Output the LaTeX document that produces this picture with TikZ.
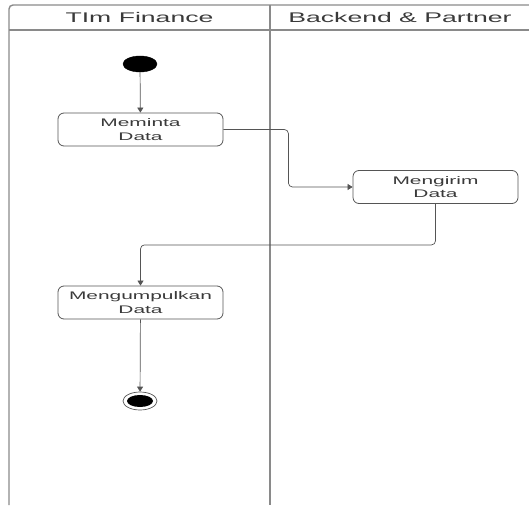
\documentclass[tikz,border=0pt]{standalone}
\usepackage{fontspec}
\setmainfont{Liberation Sans}
\newfontfamily\wide[FakeStretch=1.9]{Liberation Sans}
\usetikzlibrary{arrows.meta,shapes.geometric}
\definecolor{lineg}{HTML}{555555}
\definecolor{frameg}{HTML}{8A8A8A}
\definecolor{txtg}{HTML}{3A3A3A}
\tikzset{
  act/.style={draw=lineg, line width=0.8pt, rounded corners=6pt, minimum width=165pt, minimum height=33pt, inner sep=0pt, align=center, text=txtg, font=\wide\fontsize{11}{13.5}\selectfont},
  conn/.style={draw=lineg, line width=0.7pt, rounded corners=4pt, -{Triangle[length=5pt,width=6pt]}},
  frame/.style={draw=frameg, line width=1.4pt},
  hdr/.style={text=txtg, font=\wide\fontsize{14}{16}\selectfont, inner sep=0pt}
}
\begin{document}
\begin{tikzpicture}[x=1pt,y=-1pt]
\useasboundingbox (0,0) rectangle (529,505);
% frame
\draw[frame, rounded corners=4pt] (9,505) -- (9,5) -- (535,5);
\draw[frame] (9,30) -- (535,30);
\draw[frame] (270,5) -- (270,505);
\node[hdr] (h1) at (139.5,17.5) {TIm Finance};
\node[hdr] (h2) at (400,17.5) {Backend \& Partner};
% nodes
\node[ellipse, fill=black, draw=black, minimum width=34pt, minimum height=16pt, inner sep=0pt] (start) at (140,64) {};
\node[act] (a1) at (140.5,129.5) {Meminta\\Data};
\node[act] (a2) at (435.5,187) {Mengirim\\Data};
\node[act] (a3) at (140.5,302.5) {Mengumpulkan\\Data};
\node[ellipse, draw=lineg, line width=0.7pt, minimum width=34pt, minimum height=18pt, inner sep=0pt] (end) at (140,401) {};
\node[ellipse, fill=black, minimum width=26pt, minimum height=12pt, inner sep=0pt] (endin) at (end.center) {};
% connectors
\draw[conn] (start) -- (a1);
\draw[conn] (a1.east) -- ++(65,0) |- (a2.west);
\draw[conn] (a2.south) -- ++(0,41) -| (a3.north);
\draw[conn] (a3) -- (end);
\end{tikzpicture}
\end{document}
